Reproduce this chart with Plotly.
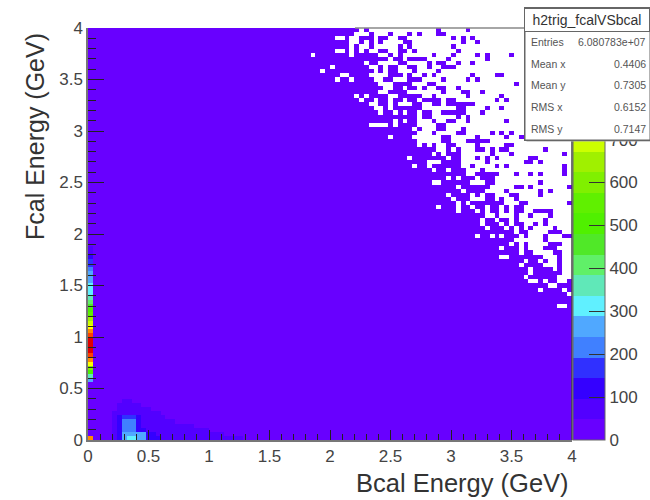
import plotly.graph_objects as go

N_BINS = 100
BIN_GEV = 0.04
BACKGROUND = 10
LEVEL_COLORS = ["#6800ff","#5200ff","#3400ff","#3030ff","#4080ff","#50a8ff","#60f0ff","#60e8b8",
                "#60f068","#50e828","#50f000","#60f000","#80f000","#a0f000","#ccff00","#ffff00",
                "#ffc800","#ff8c00","#ff4000","#e00000"]
ZMAX = 960

# Column at Bcal = 0: value per Fcal bin, starting at bin 14
EDGE_START = 14
EDGE_VALUES = [250,340,500,620,750,830,900,920,950,950,940,880,820,760,700,640,570,520,470,420,
               370,330,310,300,280,270,250,220,180,160,120,90,60,40]
CORNER_VALUE = 850

# Low-energy blob: Fcal bin -> (first Bcal bin, last Bcal bin, value), painted in order
BLOB = {
    9:[(7,8,60)],
    8:[(6,10,60)],
    7:[(6,12,60)],
    6:[(5,14,60)],
    5:[(5,15,80),(6,10,110),(7,9,170)],
    4:[(5,17,80),(6,10,110),(7,9,200)],
    3:[(5,21,70),(6,10,110),(7,9,210)],
    2:[(5,24,70),(6,11,120),(7,9,220)],
    1:[(5,27,70),(6,13,130),(7,11,240),(8,9,280)],
    0:[(5,31,70),(6,14,130),(7,11,250),(8,9,300)],
}

# Empty bins, rows counted from the top of the frame.
# Rows 0-22 are empty from bin 68 on, rows 23-45 from bin 80 on, except the filled bins listed.
FILLED_IN_EMPTY = {
    0:[72,78],1:[68,72,73],2:[75,77,79],3:[77,80],4:[75],5:[76],6:[71,75,80,82,87],7:[68,69,74,82],
    8:[70,72,73,76,79],9:[70,73,74,75],10:[72],11:[69,71,79,84,85],12:[68,73,78,80],13:[70,71,88],
    14:[69,72,73,76],15:[73,77,78,81],16:[68,71,78,85],17:[69,70,71,72,74,75,84,86],
    18:[68,71,72,74,75,76,77,78,79],19:[68,76,77,82,85],20:[69,70,73,74,75,76,77,81],
    21:[69,70,76,78],22:[71,74,75,78,86],
    23:[72,74,75],
    25:[83,85,87],26:[80,86,89],27:[80,81,82],28:[80,86,87],29:[80,81,83,85,86,94],30:[83,87,98],
    31:[80,82,84,91,92],32:[82,90,91,93],33:[84,86,98],34:[81,98],35:[80,81,82,83,84,88,91,93,98],
    36:[81,82,83],37:[82,83,93],38:[80,81,82,88,89,91,99],39:[80,81,86,93,95],
    40:[80,82,83,87,88,93],41:[82,83,85,88],42:[80,81,82,83,84,85,89,90,99],
    43:[80,81,83,84,86,88,89],44:[81,83,84,86,88,89,92,93,94,95],45:[80,81,84,88,91,95],
}
EMPTY_BINS = {
    0:[56]+list(range(58,68)),
    1:[55,56,57,59,60,61,63,64,65,67],
    2:[51,52,54,55,59,62,63,66,67],
    3:[54,55,57,59,61,62,63,64,67],
    4:[54,56,57,59,60,61,62,63,65,67],
    5:[51,52,54,56,58,59,62,63,66],
    6:[46,54,60,61,63,65,66,67],
    7:[62,65],
    8:[57,60,61,62,63,66,67],
    9:[50,58,59,61,64,65],
    10:[48,59,61,64,65,66],
    11:[52,53,58,59,60,61,65,67],
    12:[51,54,59,60,63,64,65],
    13:[60,61,62,67],
    14:[61,62,65],
    15:[60,61,66,67],
    16:[55,57,62,63],
    17:[56,59,62,65],
    18:[58,59,62,64,65,66],
    19:[59,60,62],
    20:[60,63,65],
    22:[63,65],
    23:[58,59,60,61,63,68,69,70,71,74,75,76,77,78,79],
    24:[67,69,70,71,74,75,76,78,79],
    25:[68,69,70,72,73,74,75,78,79,80],
    26:[62,67,68,69,70,71,72,75,76,77,78,79],
    27:[68,69,70,71,72,75,76,77],
    28:[68,70,72,73,76,77,78,79],
    29:[72,73,75,77,78,79],
    30:[71,73,77,78,79],
    31:[66,74,77,78,79],
    32:[70,71,72,77,78,79],
    33:[67,70,77,78],
    34:[71,74,78,79],
    35:[78,79],
    36:[74,76],
    37:[71,72,79],
    38:[76],
    39:[77],
    40:[74,79],
    41:[75,79],
    42:[76,78],
    43:[72,76,79],
    44:[76],
    46:[81,84,87,89,90,91,92,93,95,96,97,98,99],
    47:[81,85,87,90,91,93,95,96,97,98,99],
    48:[82,86,88,90,92,93,94,95,97,98,99],
    49:[88,91,92,93,94,98,99],
    50:[80,83,85,89,91,92,93,95,96,97],
    51:[88,89,90,91,92,93,95,96,97,98,99],
    52:[87,89,91,92,93,94,98,99],
    53:[85,89,91,92,93,97,98,99],
    54:[89,92,93,94,95,98,99],
    55:[85,86,94,95,96,98,99],
    56:[90,93,95,96,98,99],
    57:[89,94,95,96,98,99],
    58:[91,96,98,99],
    59:[91,98,99],
    60:[90,97,98,99],
    61:[91,92,94,97,98],
    62:[95,96],
    63:[93,98],
    64:[99],
    67:[97,98],
}

X_TICKS = [0,0.5,1,1.5,2,2.5,3,3.5,4]
X_TICK_LABELS = ["0","0.5","1","1.5","2","2.5","3","3.5","4"]
COLORBAR_TICKS = [0,100,200,300,400,500,600,700]
STATS_TITLE = "h2trig_fcalVSbcal"
STATS_LABELS = ["Entries","Mean x","Mean y","RMS x","RMS y"]
STATS_VALUES = ["6.080783e+07","0.4406","0.7305","0.6152","0.7147"]

# build grid from the lists above
z = [[BACKGROUND]*N_BINS for _ in range(N_BINS)]
for i, v in enumerate(EDGE_VALUES):
    z[EDGE_START+i][0] = v
z[0][0] = CORNER_VALUE
for b, runs in BLOB.items():
    for a, e, v in runs:
        for c in range(a, e+1):
            z[b][c] = v
for r in range(0, 23):
    for c in range(68, N_BINS):
        z[99-r][c] = None
for r in range(23, 46):
    for c in range(80, N_BINS):
        z[99-r][c] = None
for r, cols in FILLED_IN_EMPTY.items():
    for c in cols:
        z[99-r][c] = BACKGROUND
for r, cols in EMPTY_BINS.items():
    for c in cols:
        z[99-r][c] = None

centers = [(i+0.5)*BIN_GEV for i in range(N_BINS)]
scale = []
for i, col in enumerate(LEVEL_COLORS):
    scale += [[i/len(LEVEL_COLORS), col], [(i+1)/len(LEVEL_COLORS), col]]

W, H = 650, 500
L, R, T, B = 88, 572, 28, 440
def px(x): return (x-L)/(R-L)
def py(y): return (B-y)/(B-T)

fig = go.Figure(go.Heatmap(
    x=centers, y=centers, z=z, zmin=0, zmax=ZMAX, colorscale=scale,
    colorbar=dict(x=px(R+1), xanchor="left", xpad=0, ypad=0, y=0, yanchor="bottom",
                  len=1, lenmode="fraction", thickness=32, thicknessmode="pixels",
                  tickmode="array", tickvals=COLORBAR_TICKS, ticks="inside", ticklen=16,
                  tickcolor="#333", tickwidth=1, outlinecolor="#666", outlinewidth=1,
                  tickfont=dict(family="Liberation Sans", size=17, color="#444")),
))
axis = dict(range=[0,4], showgrid=False, zeroline=False, showline=True, linecolor="#777", linewidth=1.5,
            ticks="inside", tickcolor="#222", tickwidth=1,
            tickmode="array", tickvals=X_TICKS, ticktext=X_TICK_LABELS,
            tickfont=dict(family="Liberation Sans", size=17, color="#444"))
fig.update_layout(
    width=W, height=H, margin=dict(l=L, r=W-R, t=T, b=H-B, autoexpand=False), paper_bgcolor="white", plot_bgcolor="white",
    xaxis=dict(axis, ticklen=10, minor=dict(ticks="inside", ticklen=6, dtick=0.1, tickcolor="#222", tick0=0)),
    yaxis=dict(axis, ticklen=16, minor=dict(ticks="inside", ticklen=8, dtick=0.1, tickcolor="#222", tick0=0)),
    shapes=[
        dict(type="line", xref="paper", yref="paper", x0=px(355), x1=px(524), y0=py(T), y1=py(T), line=dict(color="#888", width=1.5), layer="above"),
        dict(type="line", xref="paper", yref="paper", x0=px(R), x1=px(R), y0=py(T), y1=py(B), line=dict(color="#444", width=1.5), layer="above"),
    ],
)
def note(x, y, text, size, color="#333", anchor="left", angle=0, **kw):
    fig.add_annotation(xref="paper", yref="paper", x=px(x), y=py(y), text=text, showarrow=False,
                       xanchor=anchor, yanchor="middle", textangle=angle,
                       font=dict(family="Liberation Sans", size=size, color=color), **kw)
# stats box drawn as bordered annotations so that it covers the colour bar
note(526, 75, " ", 8, anchor="left", width=124, height=132, bgcolor="#aaa", borderpad=0)
note(524, 74, " ", 8, anchor="left", width=124, height=131, bgcolor="white", bordercolor="#666", borderwidth=1.5, borderpad=0)
note(524, 19.5, STATS_TITLE, 14, anchor="left", width=124, height=22, bgcolor="white", bordercolor="#666", borderwidth=1, borderpad=0, align="center")
for i, (a, b) in enumerate(zip(STATS_LABELS, STATS_VALUES)):
    y = 42 + i*21.7
    note(529, y, a, 10.5, "#555")
    note(648, y, b, 10.5, "#555", anchor="right")
note(462, 483, "Bcal Energy (GeV)", 25.5, anchor="center")
note(35, 137, "Fcal Energy (GeV)", 25, anchor="center", angle=-90)
fig.write_html("out.html", config=dict(displayModeBar=False),
               post_script="document.body.style.margin='0';document.documentElement.style.overflow='hidden';")
